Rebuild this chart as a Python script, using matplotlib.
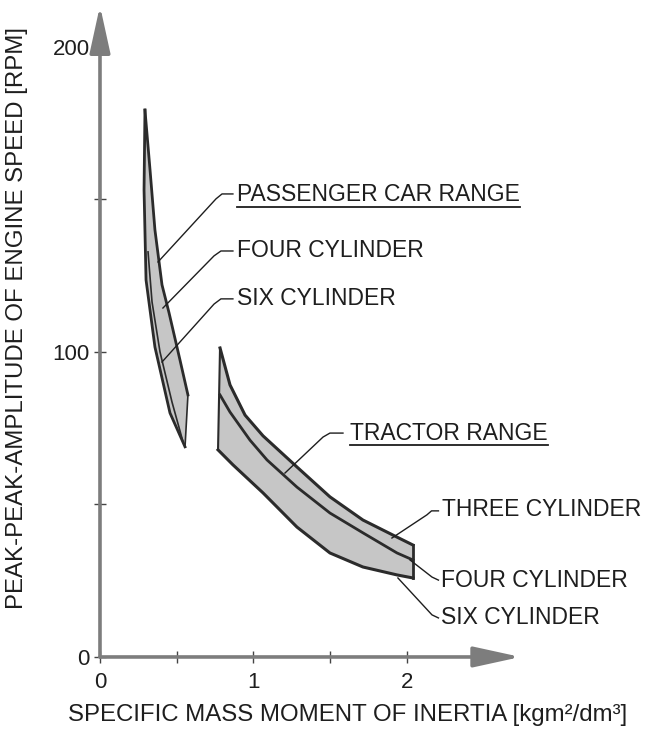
import numpy as np
import matplotlib
matplotlib.use("Agg")
import matplotlib.pyplot as plt
from matplotlib.lines import Line2D

plt.rcParams['font.family'] = ['Liberation Sans', 'DejaVu Sans']

# passenger car range (upper/right edge, lower/left edge, inner line)
pc_upper_x = [0.293, 0.326, 0.358, 0.404, 0.450, 0.521, 0.573]
pc_upper_y = [179.3, 159.7, 140.0, 122.0, 112.8, 97.4, 85.9]
pc_lower_x = [0.293, 0.287, 0.300, 0.358, 0.456, 0.554]
pc_lower_y = [179.3, 153.1, 123.6, 101.6, 80.0, 68.9]
pc_mid_x = [0.313, 0.339, 0.391, 0.469, 0.541]
pc_mid_y = [132.8, 116.4, 100.0, 83.6, 70.5]

# tractor range (three / four / six cylinder lines)
tr_upper_x = [0.782, 0.847, 0.945, 1.062, 1.283, 1.498, 1.713, 1.935, 2.039]
tr_upper_y = [101.3, 89.2, 79.3, 72.5, 62.3, 52.5, 44.9, 39.3, 36.7]
tr_mid_x = [0.782, 0.847, 0.977, 1.088, 1.283, 1.498, 1.713, 1.935, 2.039]
tr_mid_y = [85.9, 80.3, 71.1, 64.6, 55.7, 47.2, 40.7, 34.1, 31.8]
tr_lower_x = [0.769, 0.866, 1.062, 1.283, 1.498, 1.713, 1.935, 2.039]
tr_lower_y = [67.9, 63.0, 53.8, 42.6, 34.1, 29.5, 26.9, 25.9]

x_ticks = [0, 1, 2]
y_ticks = [0, 100, 200]

# labels: text, text position, leader line, underlined
labels = [
    ("PASSENGER CAR RANGE", (0.893, 151.5),
     [(0.378, 129.5), (0.756, 150.2), (0.795, 151.8), (0.866, 151.8)], True),
    ("FOUR CYLINDER", (0.893, 133.1),
     [(0.410, 114.4), (0.743, 131.5), (0.788, 133.1), (0.866, 133.1)], False),
    ("SIX CYLINDER", (0.893, 117.4),
     [(0.404, 96.7), (0.743, 115.7), (0.788, 117.4), (0.866, 117.4)], False),
    ("TRACTOR RANGE", (1.629, 73.4),
     [(1.205, 60.3), (1.453, 72.1), (1.498, 73.4), (1.583, 73.4)], True),
    ("THREE CYLINDER", (2.225, 48.2),
     [(1.902, 39.0), (2.130, 46.6), (2.160, 47.9), (2.205, 47.9)], False),
    ("FOUR CYLINDER", (2.222, 25.2),
     [(2.020, 31.8), (2.163, 26.2), (2.205, 25.2)], False),
    ("SIX CYLINDER", (2.222, 12.8),
     [(1.941, 25.9), (2.163, 13.8), (2.205, 12.8)], False),
]

fig = plt.figure(figsize=(6.46, 7.31), dpi=100)
ax = fig.add_axes([0.1429, 0.0804, 0.6653, 0.918])
ax.set_xlim(-0.05, 2.75)
ax.set_ylim(-5, 215)

edge = '#2b2b2b'
fill = '#c6c6c6'
axcol = '#7d7d7d'
txt = '#1e1e1e'

# passenger band
px = pc_upper_x + pc_lower_x[::-1]
py = pc_upper_y + pc_lower_y[::-1]
ax.fill(px, py, color=fill, lw=0)
ax.plot(pc_upper_x, pc_upper_y, color=edge, lw=2)
ax.plot(pc_lower_x, pc_lower_y, color=edge, lw=2)
ax.plot(pc_mid_x, pc_mid_y, color=edge, lw=1.2)
ax.plot([pc_upper_x[-1], pc_lower_x[-1]], [pc_upper_y[-1], pc_lower_y[-1]], color=edge, lw=1.2)

# tractor band
tx = tr_upper_x + tr_lower_x[::-1]
ty = tr_upper_y + tr_lower_y[::-1]
ax.fill(tx, ty, color=fill, lw=0)
ax.plot(tr_upper_x, tr_upper_y, color=edge, lw=2.2)
ax.plot(tr_mid_x, tr_mid_y, color=edge, lw=2)
ax.plot(tr_lower_x, tr_lower_y, color=edge, lw=2.2)
ax.plot([tr_upper_x[-1], tr_lower_x[-1]], [tr_upper_y[-1], tr_lower_y[-1]], color=edge, lw=2)
ax.plot([tr_upper_x[0], tr_lower_x[0]], [tr_upper_y[0], tr_lower_y[0]], color=edge, lw=1.5)

# axes with arrows
for s in ['top', 'right', 'left', 'bottom']:
    ax.spines[s].set_visible(False)
ax.spines['left'].set_position(('data', 0))
ax.spines['bottom'].set_position(('data', 0))
arrow = dict(arrowstyle='-|>,head_length=1.6,head_width=0.35', color=axcol,
             lw=2.6, mutation_scale=18, shrinkA=0, shrinkB=0)
ax.annotate('', xy=(2.74, 0), xytext=(0, 0), arrowprops=arrow)
ax.annotate('', xy=(0, 213.5), xytext=(0, 0), arrowprops=arrow)

ax.set_xticks(x_ticks)
ax.set_xticks([0.5, 1.5], minor=True)
ax.set_yticks(y_ticks)
ax.set_yticks([50, 150], minor=True)
ax.tick_params(which='both', direction='inout', length=9, width=1, color='#444',
               labelsize=16, labelcolor=txt)
ax.tick_params(axis='x', pad=6)
ax.tick_params(axis='y', pad=3)

for text, pos, leader, underline in labels:
    lx, ly = zip(*leader)
    ax.plot(lx, ly, color=txt, lw=1)
    t = ax.text(pos[0], pos[1], text, fontsize=16.5, color=txt,
                ha='left', va='center')
    t._underline = underline

fig.text(17 / 646, 1 - 318 / 731, "PEAK-PEAK-AMPLITUDE OF ENGINE SPEED [RPM]",
         rotation=90, ha='center', va='center', fontsize=17.3, color=txt)
fig.text(348 / 646, 1 - 715 / 731, "SPECIFIC MASS MOMENT OF INERTIA [kgm²/dm³]",
         ha='center', va='center', fontsize=17.3, color=txt)

# underline the range titles
fig.canvas.draw()
r = fig.canvas.get_renderer()
inv = fig.transFigure.inverted()
for t in ax.texts:
    if getattr(t, '_underline', False):
        bb = t.get_window_extent(r)
        (x0, y0), (x1, _) = inv.transform([(bb.x0, bb.y0), (bb.x1, bb.y1)])
        fig.add_artist(Line2D([x0, x1], [y0 - 0.001, y0 - 0.001],
                              transform=fig.transFigure, color=txt, lw=1.3))

fig.savefig("out.png", dpi=100)
